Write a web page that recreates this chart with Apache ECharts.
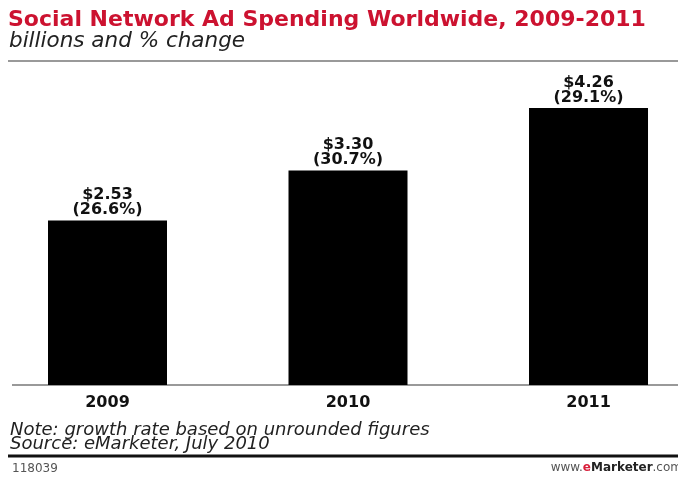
<!DOCTYPE html>
<html><head><meta charset="utf-8">
<script src="https://cdn.jsdelivr.net/npm/echarts@6/dist/echarts.min.js"></script>
<style>html,body{margin:0;padding:0;background:#fff}#c{width:678px;height:479px}</style>
</head><body><div id="c"></div>
<script>
var categories = ['2009', '2010', '2011'];
var spending = [2.53, 3.30, 4.26];
var pctChange = ['26.6%', '30.7%', '29.1%'];
var categoryPositions = [0, 1, 2];

var chart = echarts.init(document.getElementById('c'));
chart.setOption({
  animation: false,
  backgroundColor: '#fff',
  grid: { left: 10, right: 0, top: 60, bottom: 94, containLabel: false },
  xAxis: {
    type: 'value', min: -0.4054, max: 2.3721,
    axisLine: { show: false }, axisTick: { show: false }, splitLine: { show: false },
    axisLabel: {
      customValues: categoryPositions,
      formatter: function (v) { return categories[Math.round(v)]; },
      color: '#111', fontFamily: 'DejaVu Sans', fontWeight: 'bold', fontSize: 16, margin: 10
    }
  },
  yAxis: { type: 'value', min: 0, max: 5, show: false, splitLine: { show: false } },
  series: [{
    type: 'bar', barWidth: 119,
    data: spending.map(function (v, i) { return [categoryPositions[i], v]; }),
    itemStyle: { color: '#000' },
    label: {
      show: true, position: 'top', distance: 3,
      color: '#111', fontFamily: 'DejaVu Sans', fontWeight: 'bold', fontSize: 16, lineHeight: 15,
      formatter: function (p) { return '$' + spending[p.dataIndex].toFixed(2) + '\n(' + pctChange[p.dataIndex] + ')'; }
    }
  }],
  graphic: [
    { type: 'text', left: 8, top: 9, style: { text: 'Social Network Ad Spending Worldwide, 2009-2011', fill: '#cc1230', font: 'bold 22px "DejaVu Sans"' } },
    { type: 'text', left: 9, top: 30, style: { text: 'billions and % change', fill: '#222', font: 'italic 21.5px "DejaVu Sans"' } },
    { type: 'line', shape: { x1: 8, y1: 61, x2: 678, y2: 61 }, style: { stroke: '#999', lineWidth: 2 } },
    { type: 'line', shape: { x1: 12, y1: 385, x2: 678, y2: 385 }, style: { stroke: '#999', lineWidth: 2 } },
    { type: 'text', left: 10, top: 421, style: { text: 'Note: growth rate based on unrounded figures', fill: '#222', font: 'italic 18px "DejaVu Sans"' } },
    { type: 'text', left: 10, top: 435, style: { text: 'Source: eMarketer, July 2010', fill: '#222', font: 'italic 18px "DejaVu Sans"' } },
    { type: 'line', shape: { x1: 8, y1: 456, x2: 678, y2: 456 }, style: { stroke: '#111', lineWidth: 3 } },
    { type: 'text', left: 12, top: 463, style: { text: '118039', fill: '#555', font: '12px "DejaVu Sans"' } },
    { type: 'text', right: -4, top: 462, style: {
      rich: {
        a: { fill: '#555', font: '12px "DejaVu Sans"' },
        e: { fill: '#d81e3a', font: 'bold 12px "DejaVu Sans"' },
        b: { fill: '#222', font: 'bold 12px "DejaVu Sans"' }
      },
      text: '{a|www.}{e|e}{b|Marketer}{a|.com}'
    } }
  ]
});
</script></body></html>
